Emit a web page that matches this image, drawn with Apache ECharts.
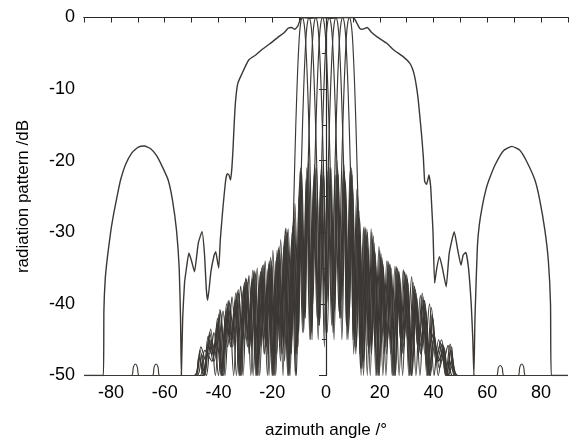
<!DOCTYPE html>
<html>
<head>
<meta charset="utf-8">
<script src="https://cdn.jsdelivr.net/npm/echarts@6/dist/echarts.min.js"></script>
<style>
html,body{margin:0;padding:0;background:#fff;}
#chart{width:571px;height:444px;}
</style>
</head>
<body>
<div id="chart"></div>
<script>
// x tick labels (azimuth angle, deg) and y tick labels (dB)
var xTicks = [-80, -60, -40, -20, 0, 20, 40, 60, 80];
var yTicks = [0, -10, -20, -30, -40, -50];

// envelope / broad pattern with grating lobes
var envelope = [[-90,-50],[-82.8,-50],[-82.6,-41],[-82.1,-36.5],[-81.3,-33.5],[-80.1,-30],[-78.9,-27.3],[-77.6,-24.8],[-76.4,-22.7],[-74.5,-20.5],[-72.2,-18.9],[-69.8,-18.1],[-67.5,-17.95],[-65.3,-18.3],[-63.0,-19.3],[-60.8,-20.9],[-58.7,-22.7],[-57.1,-25.5],[-55.6,-29.7],[-54.6,-35],[-54.1,-42],[-53.8,-50],[-53.3,-42],[-52.6,-37],[-52,-35.3],[-51,-32.9],[-50,-34],[-48.9,-35.5],[-47.5,-31.5],[-46.1,-29.9],[-45.2,-33],[-44.5,-38],[-44,-39.5],[-42.8,-35.5],[-41.6,-33.2],[-41,-32.7],[-40.4,-34],[-39.9,-35],[-39.3,-31],[-38.5,-27.3],[-37.3,-22.7],[-36.7,-21.8],[-36.1,-22],[-35.5,-22.7],[-35.0,-21],[-34.6,-18.5],[-34.1,-14.5],[-33.6,-11.5],[-32.8,-9.2],[-31.2,-7.8],[-28.7,-5.9],[-26,-5.2],[-23.9,-4.5],[-21,-3.7],[-17.7,-2.7],[-15.5,-2.1],[-14.1,-1.5],[-12.8,-1.4],[-11.6,-1.65],[-10.5,-1.2],[-9.6,-0.3],[-9.2,0],[-6,-0.1],[-2,0],[2,-0.1],[6,0],[10.2,0],[11.5,-0.8],[12.5,-1.5],[13.5,-1.65],[15.3,-1.4],[17,-2.1],[19,-2.7],[22.6,-3.6],[25.1,-4.5],[28.8,-5.5],[31.2,-6.4],[32.2,-7.2],[33,-8.3],[33.7,-9.8],[34.3,-11.5],[35.5,-16.2],[36.2,-19.5],[36.7,-22.9],[37.4,-23.3],[38.3,-22],[38.9,-23.5],[39.2,-25.5],[39.8,-30],[40.4,-37.1],[41.2,-35],[42.2,-33.4],[43.3,-35],[44.7,-37.6],[45.8,-33],[47.7,-29.9],[49,-32.5],[50.2,-34.6],[51,-33.2],[52,-32.8],[53,-35],[54,-40],[54.6,-45],[55,-50],[55.4,-42],[56.3,-32],[57,-29],[58.1,-26.4],[59.5,-24],[60.6,-22.7],[63,-20.5],[66,-18.6],[69.1,-18.0],[72,-18.5],[74.5,-20],[77.7,-22.7],[79.5,-25.5],[81.4,-29.7],[82.7,-34],[83.5,-40],[83.8,-50],[90,-50]];

var beam1 = [[-90,-50],[-50,-50],[-46.8,-50],[-45.1,-46.5],[-43.4,-47],[-41.7,-44],[-40.0,-50],[-38.3,-41],[-36.6,-46],[-34.95,-39],[-33.3,-50],[-31.75,-37.5],[-30.2,-45],[-28.65,-36],[-27.1,-50],[-25.6,-35],[-24.1,-46],[-22.65,-34],[-21.2,-50],[-19.75,-32.5],[-18.3,-47],[-16.85,-31],[-15.4,-48],[-14.05,-29.5],[-12.7,-45],[-12.2,-30],[-11.6,-20],[-10.8,-10],[-10.05,-3.5],[-9.5,-1],[-8.8,0],[-8.1,-1],[-7.55,-3.5],[-6.8,-10],[-6.0,-20],[-5.4,-30],[-4.9,-40],[-3.55,-21],[-2.2,-42],[-0.85,-22],[0.5,-44],[1.85,-21],[3.2,-41],[4.55,-22],[5.9,-45],[7.25,-23],[8.6,-42],[9.95,-24],[11.3,-46],[12.65,-30],[14.0,-48],[15.45,-32],[16.9,-47],[18.35,-34],[19.8,-50],[21.25,-35],[22.7,-46],[24.15,-36],[25.6,-50],[27.15,-37],[28.7,-47],[30.25,-38],[31.8,-50],[33.35,-40],[34.9,-46],[36.6,-42],[38.3,-50],[40.0,-45],[41.7,-48],[43.4,-47],[45.1,-50],[90,-50]];

var beam2 = [[-90,-50],[-48,-50],[-46.3,-47],[-44.5,-50],[-42.7,-45],[-40.95,-47],[-39.25,-41],[-37.55,-50],[-35.85,-39.8],[-34.15,-45],[-32.45,-38.5],[-30.85,-50],[-29.3,-37],[-27.75,-46],[-26.2,-35.8],[-24.65,-50],[-23.1,-35],[-21.6,-47],[-20.15,-34.5],[-18.7,-50],[-17.25,-32.5],[-15.8,-46],[-14.35,-30],[-12.9,-47],[-11.55,-26],[-10.2,-44],[-9.7,-30],[-9.1,-20],[-8.3,-10],[-7.55,-3.5],[-7.0,-1],[-6.3,0],[-5.6,-1],[-5.05,-3.5],[-4.3,-10],[-3.5,-20],[-2.9,-30],[-2.4,-43],[-1.05,-20.5],[0.3,-40],[1.65,-22],[3.0,-45],[4.35,-21],[5.7,-42],[7.05,-22.5],[8.4,-44],[9.75,-22],[11.1,-47],[12.5,-28],[13.95,-50],[15.4,-30],[16.85,-46],[18.3,-33],[19.75,-50],[21.2,-34.5],[22.7,-45],[24.25,-35],[25.8,-50],[27.35,-36],[28.9,-46],[30.45,-37],[32.0,-50],[33.7,-39],[35.4,-47],[37.1,-41],[38.8,-50],[40.5,-45.5],[42.2,-49],[44.0,-46.5],[45.8,-50],[90,-50]];

var beam3 = [[-90,-50],[-72.4,-50],[-71.6,-48.8],[-70.9,-48.4],[-70.2,-48.8],[-69.4,-50],[-50,-50],[-48.2,-50],[-46.5,-46],[-44.7,-48],[-42.9,-43.5],[-41.15,-50],[-39.45,-40.8],[-37.75,-46],[-36.05,-39.5],[-34.35,-50],[-32.65,-38],[-31.05,-45],[-29.5,-36.5],[-27.95,-50],[-26.4,-35.5],[-24.85,-47],[-23.3,-34.5],[-21.8,-50],[-20.35,-34],[-18.9,-46],[-17.45,-32],[-16.0,-50],[-14.55,-29.5],[-13.1,-47],[-11.75,-28],[-10.4,-46],[-9.05,-21.5],[-7.7,-42],[-7.2,-30],[-6.6,-20],[-5.8,-10],[-5.05,-3.5],[-4.5,-1],[-3.8,0],[-3.1,-1],[-2.55,-3.5],[-1.8,-10],[-1.0,-20],[-0.4,-30],[0.1,-41],[1.45,-21],[2.8,-43],[4.15,-20],[5.5,-40],[6.85,-21.5],[8.2,-45],[9.55,-21],[10.9,-44],[12.3,-27],[13.75,-49],[15.2,-29.5],[16.65,-45],[18.1,-32.5],[19.55,-50],[21.0,-34],[22.5,-47],[24.05,-35.5],[25.6,-50],[27.15,-35.5],[28.7,-45],[30.25,-36.5],[31.8,-50],[33.45,-38.5],[35.15,-47],[36.85,-40],[38.55,-50],[40.25,-44.5],[41.95,-48],[43.75,-46],[45.55,-50],[47.2,-48.5],[49,-50],[90,-50]];

var beam4 = [[-90,-50],[-64.6,-50],[-63.9,-48.8],[-63.2,-48.4],[-62.5,-48.8],[-61.8,-50],[-50,-50],[-48.5,-50],[-46.85,-46.5],[-45.05,-50],[-43.25,-44],[-41.5,-48],[-39.8,-41.5],[-38.1,-50],[-36.4,-39.6],[-34.7,-46],[-33.0,-38.3],[-31.4,-50],[-29.85,-36.4],[-28.3,-45],[-26.75,-35.3],[-25.2,-50],[-23.65,-34.6],[-22.1,-46],[-20.6,-33.5],[-19.15,-50],[-17.7,-32.2],[-16.25,-47],[-14.8,-30],[-13.35,-50],[-11.95,-29],[-10.6,-45],[-9.25,-22],[-7.9,-41],[-6.55,-20],[-5.2,-45],[-4.7,-30],[-4.1,-20],[-3.3,-10],[-2.55,-3.5],[-2.0,-1],[-1.3,0],[-0.6,-1],[-0.05,-3.5],[0.7,-10],[1.5,-20],[2.1,-30],[2.6,-44],[3.95,-22],[5.3,-42],[6.65,-20.5],[8.0,-43],[9.35,-22],[10.7,-46],[12.1,-27.5],[13.55,-48],[15.0,-30.5],[16.45,-50],[17.9,-31.5],[19.35,-46],[20.8,-33.5],[22.3,-50],[23.85,-34.5],[25.4,-45],[26.95,-35.5],[28.5,-50],[30.05,-36],[31.6,-47],[33.25,-38],[34.95,-50],[36.65,-39.5],[38.35,-46],[40.05,-44],[41.75,-50],[43.55,-45.8],[45.35,-50],[47.0,-47.5],[49,-50],[90,-50]];

var beam5 = [[-90,-50],[-49,-50],[-47.1,-47.5],[-45.4,-50],[-43.6,-45],[-41.85,-47],[-40.15,-42.5],[-38.45,-50],[-36.75,-40.5],[-35.05,-45],[-33.35,-39],[-31.7,-50],[-30.15,-37],[-28.6,-47],[-27.05,-36],[-25.5,-50],[-23.95,-35],[-22.4,-46],[-20.9,-34.5],[-19.45,-50],[-18.0,-33],[-16.55,-45],[-15.1,-29.4],[-13.65,-50],[-12.2,-28.5],[-10.8,-47],[-9.45,-21],[-8.1,-42],[-6.75,-21.5],[-5.4,-44],[-4.05,-21],[-2.7,-43],[-2.2,-30],[-1.6,-20],[-0.8,-10],[-0.05,-3.5],[0.5,-1],[1.2,0],[1.9,-1],[2.45,-3.5],[3.2,-10],[4.0,-20],[4.6,-30],[5.1,-42],[6.45,-21],[7.8,-45],[9.15,-20.5],[10.5,-44],[11.85,-25],[13.25,-49],[14.7,-29.5],[16.15,-46],[17.6,-30.5],[19.05,-50],[20.5,-33],[22.0,-46],[23.55,-34.5],[25.1,-50],[26.65,-35],[28.2,-47],[29.75,-35.8],[31.3,-50],[32.9,-37.5],[34.6,-45],[36.3,-39.5],[38.0,-50],[39.7,-42],[41.4,-48],[43.15,-45.6],[44.95,-50],[46.7,-46],[48.4,-50],[63.4,-50],[64.1,-48.9],[64.8,-48.6],[65.5,-48.9],[66.2,-50],[90,-50]];

var beam6 = [[-90,-50],[-49,-50],[-47.3,-47.5],[-45.6,-50],[-43.8,-44.5],[-42.05,-48],[-40.35,-42],[-38.65,-50],[-36.95,-40],[-35.25,-46],[-33.55,-38.5],[-31.9,-50],[-30.35,-37],[-28.8,-46],[-27.25,-35.3],[-25.7,-50],[-24.15,-35.5],[-22.6,-45],[-21.1,-34],[-19.65,-50],[-18.2,-32.5],[-16.75,-47],[-15.3,-30.5],[-13.85,-50],[-12.4,-29.2],[-11.0,-50],[-9.65,-21.5],[-8.3,-44],[-6.95,-22],[-5.6,-41],[-4.25,-20.5],[-2.9,-45],[-1.55,-22],[-0.2,-40],[0.3,-30],[0.9,-20],[1.7,-10],[2.45,-3.5],[3.0,-1],[3.7,0],[4.4,-1],[4.95,-3.5],[5.7,-10],[6.5,-20],[7.1,-30],[7.6,-43],[8.95,-21.5],[10.3,-47],[11.65,-26],[13.05,-50],[14.5,-29.2],[15.95,-47],[17.4,-31],[18.85,-50],[20.3,-33.5],[21.8,-45],[23.35,-34.2],[24.9,-50],[26.45,-35.2],[28.0,-46],[29.55,-36],[31.1,-50],[32.7,-37.8],[34.4,-47],[36.1,-39],[37.8,-50],[39.5,-41.5],[41.2,-47],[42.95,-45],[44.75,-50],[46.5,-46.5],[48.2,-50],[71.4,-50],[72.1,-48.8],[72.8,-48.4],[73.5,-48.8],[74.2,-50],[90,-50]];

var beam7 = [[-90,-50],[-45.8,-50],[-44.0,-46],[-42.25,-47],[-40.55,-43],[-38.85,-50],[-37.15,-41],[-35.45,-46],[-33.75,-39.5],[-32.1,-50],[-30.55,-37.5],[-29.0,-45],[-27.45,-36.5],[-25.9,-50],[-24.35,-35.5],[-22.8,-47],[-21.3,-34.5],[-19.85,-50],[-18.4,-33.5],[-16.95,-48],[-15.5,-31],[-14.05,-50],[-12.6,-30],[-11.2,-47],[-9.85,-23],[-8.5,-43],[-7.15,-21],[-5.8,-45],[-4.45,-22],[-3.1,-40],[-1.75,-21],[-0.4,-44],[0.95,-20.5],[2.3,-42],[2.8,-30],[3.4,-20],[4.2,-10],[4.95,-3.5],[5.5,-1],[6.2,0],[6.9,-1],[7.45,-3.5],[8.2,-10],[9.0,-20],[9.6,-30],[10.1,-45],[11.45,-24],[12.8,-49],[14.2,-29.5],[15.65,-46],[17.1,-30],[18.55,-50],[20.0,-32.5],[21.5,-47],[23.05,-34],[24.6,-50],[26.15,-34.8],[27.7,-45],[29.25,-35.5],[30.8,-50],[32.4,-37],[34.1,-46],[35.8,-38.5],[37.5,-50],[39.2,-40.5],[40.9,-48],[42.65,-45.5],[44.45,-50],[46.2,-45.6],[47.9,-50],[90,-50]];

var beam8 = [[-90,-50],[-46,-50],[-44.2,-47],[-42.45,-48],[-40.75,-44.5],[-39.05,-50],[-37.35,-42],[-35.65,-45],[-33.95,-40],[-32.3,-50],[-30.75,-38],[-29.2,-46],[-27.65,-37],[-26.1,-50],[-24.55,-36],[-23.0,-47],[-21.5,-35],[-20.05,-50],[-18.6,-34],[-17.15,-46],[-15.7,-32],[-14.25,-50],[-12.8,-31],[-11.4,-50],[-10.05,-25],[-8.7,-44],[-7.35,-22.5],[-6.0,-45],[-4.65,-23],[-3.3,-42],[-1.95,-22],[-0.6,-46],[0.75,-21.5],[2.1,-43],[3.45,-22],[4.8,-41],[5.3,-30],[5.9,-20],[6.7,-10],[7.45,-3.5],[8.0,-1],[8.7,0],[9.4,-1],[9.95,-3.5],[10.7,-10],[11.5,-20],[12.1,-30],[12.6,-47],[13.95,-29.3],[15.35,-50],[16.8,-29.5],[18.25,-46],[19.7,-32],[21.15,-50],[22.6,-34],[24.1,-47],[25.65,-34.7],[27.2,-50],[28.75,-35.2],[30.3,-45],[31.85,-36.2],[33.45,-50],[35.1,-38.8],[36.8,-47],[38.5,-40],[40.2,-50],[41.9,-45],[43.7,-48],[45.4,-45.8],[47.1,-50],[90,-50]];

var beams = [beam1, beam2, beam3, beam4, beam5, beam6, beam7, beam8];

var FONT = "'Liberation Sans', Arial, sans-serif";
var LINE = '#3b3835';
var AXIS = '#2a2a2a';

var chart = echarts.init(document.getElementById('chart'), null, {renderer: 'canvas', width: 571, height: 444});

var series = [{
  type: 'line', data: envelope, showSymbol: false, symbol: 'none', smooth: 0.15,
  lineStyle: {color: LINE, width: 1.4}, silent: true, animation: false, clip: true, z: 3
}];
beams.forEach(function (b) {
  series.push({
    type: 'line', data: b, showSymbol: false, symbol: 'none', smooth: 0.35,
    lineStyle: {color: LINE, width: 1.15}, silent: true, animation: false, clip: true, z: 2
  });
});

chart.setOption({
  animation: false,
  backgroundColor: '#fff',
  grid: {left: 84, top: 17.5, width: 490, height: 358, containLabel: false},
  xAxis: [{
    type: 'value', min: -90, max: 90, interval: 10, position: 'bottom',
    name: 'azimuth angle /°', nameLocation: 'middle', nameGap: 46,
    nameTextStyle: {fontFamily: FONT, fontSize: 17, color: '#000'},
    axisLine: {show: true, lineStyle: {color: AXIS, width: 1.2}},
    axisTick: {show: true, inside: false, length: 5, lineStyle: {color: AXIS}},
    axisLabel: {show: true, margin: 9, fontFamily: FONT, fontSize: 18, color: '#000',
      formatter: function (v) { return xTicks.indexOf(v) >= 0 ? String(v) : ''; }},
    splitLine: {show: false}
  }, {
    type: 'value', min: -90, max: 90, interval: 10, position: 'top',
    axisLine: {show: true, lineStyle: {color: AXIS, width: 1.2}},
    axisTick: {show: true, inside: true, length: 4, lineStyle: {color: AXIS}},
    axisLabel: {show: false}, splitLine: {show: false}
  }],
  yAxis: [{
    type: 'value', min: -50, max: 0, interval: 10,
    name: 'radiation pattern /dB', nameLocation: 'middle', nameGap: 52,
    nameTextStyle: {fontFamily: FONT, fontSize: 17, color: '#000'},
    axisLine: {show: true, lineStyle: {color: AXIS, width: 1.2}},
    axisTick: {show: true, inside: false, length: 7, lineStyle: {color: AXIS}},
    minorTick: {show: true, splitNumber: 2, length: 4, lineStyle: {color: AXIS}},
    axisLabel: {show: true, margin: 9, fontFamily: FONT, fontSize: 18, color: '#000',
      formatter: function (v) { return yTicks.indexOf(v) >= 0 ? String(v) : ''; }},
    splitLine: {show: false}
  }],
  series: series
});
</script>
</body>
</html>
